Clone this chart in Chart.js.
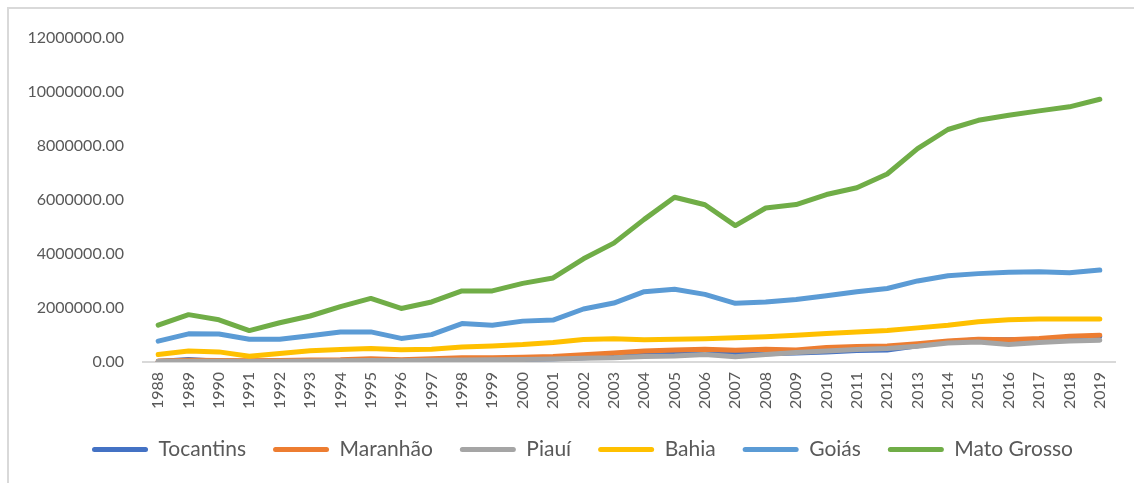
<!DOCTYPE html>
<html>
<head>
<meta charset="utf-8">
<script src="https://cdn.jsdelivr.net/npm/chart.js@4/dist/chart.umd.min.js"></script>
<style>
  html, body { margin: 0; padding: 0; background: #fff; overflow: hidden; }
  #frame { position: absolute; left: 7px; top: 7px; width: 1127px; height: 476px;
           border-top: 2px solid #d9d9d9; border-left: 2px solid #d9d9d9; box-sizing: border-box; }
  #wrap { position: absolute; left: 0; top: 0; width: 1134px; height: 483px; }
</style>
</head>
<body>
<div id="frame"></div>
<div id="wrap"><canvas id="chart"></canvas></div>
<script>
// --- DATA ---
const years = ['1988','1989','1990','1991','1992','1993','1994','1995','1996','1997','1998','1999','2000','2001','2002','2003',
               '2004','2005','2006','2007','2008','2009','2010','2011','2012','2013','2014','2015','2016','2017','2018','2019'];

const tocantins = [10000,90000,20000,20000,30000,40000,50000,60000,50000,70000,80000,90000,100000,120000,150000,200000,
                   250000,280000,300000,280000,300000,330000,370000,420000,440000,600000,750000,820000,820000,840000,900000,940000];
const maranhao = [30000,60000,50000,40000,50000,70000,80000,120000,80000,120000,150000,150000,170000,200000,260000,330000,
                  400000,440000,470000,430000,470000,440000,530000,570000,590000,670000,770000,840000,820000,870000,950000,990000];
const piaui = [20000,20000,20000,10000,20000,30000,40000,50000,40000,60000,70000,80000,90000,110000,130000,150000,
               200000,220000,270000,190000,270000,350000,400000,460000,500000,580000,700000,740000,640000,720000,770000,800000];
const bahia = [270000,400000,370000,210000,310000,410000,460000,500000,450000,470000,550000,590000,640000,720000,830000,860000,
               820000,840000,860000,890000,930000,990000,1050000,1110000,1160000,1260000,1360000,1490000,1560000,1590000,1590000,1590000];
const goias = [770000,1040000,1030000,840000,840000,970000,1110000,1110000,870000,1010000,1420000,1360000,1510000,1550000,1960000,2180000,
               2600000,2690000,2500000,2170000,2220000,2310000,2450000,2600000,2720000,3000000,3190000,3270000,3320000,3340000,3300000,3400000];
const matoGrosso = [1360000,1750000,1560000,1160000,1450000,1700000,2050000,2350000,1980000,2220000,2630000,2630000,2910000,3110000,3820000,4400000,
                    5280000,6100000,5820000,5050000,5700000,5830000,6200000,6450000,6960000,7900000,8610000,8950000,9140000,9300000,9450000,9730000];

const seriesNames = ['Tocantins', 'Maranhão', 'Piauí', 'Bahia', 'Goiás', 'Mato Grosso'];
const seriesData = [tocantins, maranhao, piaui, bahia, goias, matoGrosso];
const seriesColors = ['#4472c4', '#ed7d31', '#a5a5a5', '#ffc000', '#5b9bd5', '#70ad47'];

const yMax = 12000000;
const yStep = 2000000;

const textColor = '#595959';

// later series drawn on top, like the original
const datasets = seriesNames.map((name, i) => ({
    label: name,
    data: seriesData[i],
    borderColor: seriesColors[i],
    backgroundColor: seriesColors[i],
    borderWidth: 5,
    borderCapStyle: 'round',
    borderJoinStyle: 'round',
    pointRadius: 0,
    pointHoverRadius: 0,
    tension: 0,
    order: seriesNames.length - i
}));

// legend in the original sits a bit right of centre and closer to the axis
const legendShift = {
    id: 'legendShift',
    afterLayout(chart) {
        const lg = chart.legend;
        lg.left += 25; lg.right += 25;
        lg.top -= 7; lg.bottom -= 7;
    }
};

new Chart(document.getElementById('chart'), {
    type: 'line',
    data: { labels: years, datasets: datasets },
    plugins: [legendShift],
    options: {
        responsive: true,
        maintainAspectRatio: false,
        animation: false,
        layout: { padding: { top: 38, right: 19, bottom: 6, left: 0 } },
        scales: {
            x: {
                offset: true,
                grid: { display: false, drawTicks: false },
                border: { display: true, color: '#d9d9d9', width: 2 },
                ticks: {
                    color: textColor, font: { family: 'Lato', size: 16 },
                    minRotation: 90, maxRotation: 90, autoSkip: false, padding: 10
                }
            },
            y: {
                min: 0, max: yMax,
                grid: { display: false, drawTicks: false },
                border: { display: false },
                ticks: {
                    stepSize: yStep, color: textColor, font: { family: 'Lato', size: 16 }, padding: 19,
                    callback: (v) => v.toFixed(2)
                },
                afterFit: (s) => { s.width = 143; }
            }
        },
        plugins: {
            tooltip: { enabled: false },
            legend: {
                position: 'bottom',
                labels: {
                    boxWidth: 56, boxHeight: 5,
                    useBorderRadius: true, borderRadius: 2.5,
                    color: textColor, font: { family: 'Lato', size: 21 },
                    padding: 27,
                    sort: (a, b) => a.datasetIndex - b.datasetIndex,
                    generateLabels: (chart) => Chart.defaults.plugins.legend.labels.generateLabels(chart)
                        .map(l => Object.assign(l, { lineWidth: 0, fillStyle: seriesColors[l.datasetIndex] }))
                }
            }
        }
    }
});
</script>
</body>
</html>
